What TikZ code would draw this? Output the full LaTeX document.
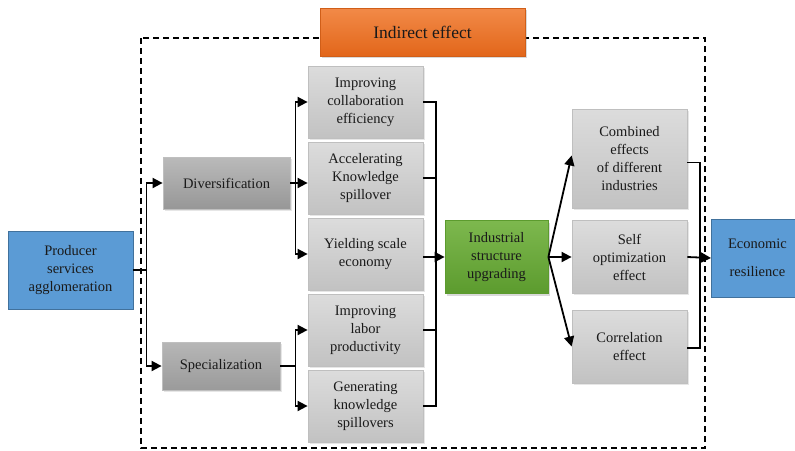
\documentclass[tikz,border=0pt]{standalone}
\usepackage{fontspec}
\setmainfont{Liberation Serif}
\usetikzlibrary{arrows.meta,shadows}

\definecolor{boxline}{HTML}{BFBFBF}
\definecolor{greytop}{HTML}{DCDCDC}
\definecolor{greybot}{HTML}{C2C2C2}
\definecolor{darktop}{HTML}{BABABA}
\definecolor{darkbot}{HTML}{979797}
\definecolor{bluefill}{HTML}{5B9BD5}
\definecolor{blueline}{HTML}{41719C}
\definecolor{orangetop}{HTML}{F28A48}
\definecolor{orangebot}{HTML}{E2661A}
\definecolor{greentop}{HTML}{7DB84E}
\definecolor{greenbot}{HTML}{5C9B2E}
\definecolor{inktext}{HTML}{1A1A1A}

\begin{document}
\begin{tikzpicture}[x=1pt,y=-1pt,
    txt/.style={font=\fontsize{14.5}{18}\selectfont, text=inktext, align=center, inner sep=2pt},
    mechbox/.style={txt, draw=boxline, line width=0.8pt, top color=greytop, bottom color=greybot,
        minimum width=115pt, minimum height=72pt,
        drop shadow={opacity=0.2, shadow xshift=1.5pt, shadow yshift=-1.5pt}},
    pathbox/.style={txt, draw=boxline, line width=0.8pt, top color=darktop, bottom color=darkbot,
        drop shadow={opacity=0.2, shadow xshift=1.5pt, shadow yshift=-1.5pt}},
    endbox/.style={txt, draw=blueline, line width=0.8pt, fill=bluefill, minimum height=78pt},
    link/.style={line width=1.8pt, line cap=butt},
    arr/.style={link, -{Triangle[length=10pt,width=10pt]}}
]

    % Fix the page to the size of the reference
    \useasboundingbox (0,0) rectangle (795,450);

    % Dashed frame of the indirect effect
    \draw[line width=1.4pt, dash pattern=on 6pt off 4pt] (141,38) rectangle (705,448);

    % Title box on top of the frame
    \node[txt, font=\fontsize{17.5}{20}\selectfont, minimum width=205pt, minimum height=48pt,
          draw=orangebot!80!black!40!orangebot, top color=orangetop, bottom color=orangebot,
          drop shadow={opacity=0.3, shadow xshift=2pt, shadow yshift=-2pt}]
          (indirect) at (422.5,32) {Indirect effect};

    % Start and end of the chain
    \node[endbox, minimum width=125pt] (producer) at (70.5,270) {Producer\\services\\agglomeration};
    \node[endbox, minimum width=92pt, anchor=west, font=\fontsize{14.5}{28}\selectfont] (resil) at (711,258) {Economic\\resilience};

    % The two kinds of agglomeration
    \node[pathbox, minimum width=127pt, minimum height=52pt] (divers) at (226.5,183) {Diversification};
    \node[pathbox, minimum width=118pt, minimum height=48pt, top color=darktop!90!darkbot, bottom color=darkbot!90!darktop] (special) at (221,366) {Specialization};

    % Middle column of mechanisms
    \node[mechbox] (collab) at (365.5,102) {Improving\\collaboration\\efficiency};
    \node[mechbox] (accel)  at (365.5,178) {Accelerating\\Knowledge\\spillover};
    \node[mechbox] (scale)  at (365.5,254) {Yielding scale\\economy};
    \node[mechbox] (labor)  at (365.5,330) {Improving\\labor\\productivity};
    \node[mechbox] (spill)  at (365.5,406) {Generating\\knowledge\\spillovers};

    % Industrial structure upgrading
    \node[txt, draw=greenbot, line width=0.8pt, top color=greentop, bottom color=greenbot,
          minimum width=103pt, minimum height=73pt,
          drop shadow={opacity=0.3, shadow xshift=2pt, shadow yshift=-2pt}]
          (upgrade) at (496.5,257) {Industrial\\structure\\upgrading};

    % Right column of effects
    \node[mechbox, minimum height=99pt] (combined) at (629.5,158.5) {Combined\\effects\\of different\\industries};
    \node[mechbox, minimum height=73pt] (selfopt)  at (629.5,257)   {Self\\optimization\\effect};
    \node[mechbox, minimum height=73pt] (correl)   at (629.5,346.5) {Correlation\\effect};

    % Bus points where the lines meet
    \coordinate (busL) at (436,257);
    \coordinate (busR) at (700,257);

    % Producer services to the two kinds
    \draw[arr] (producer.east) -- ++(13,0) |- (divers.west);
    \draw[arr] (producer.east) -- ++(13,0) |- (special.west);

    % Diversification to its mechanisms
    \draw[arr] (divers.east) -- ++(5,0) |- (collab.west);
    \draw[arr] (divers.east) -- (accel.west |- divers.east);
    \draw[arr] (divers.east) -- ++(5,0) |- (scale.west);

    % Specialization to its mechanisms
    \draw[arr] (special.east) -- ++(15,0) |- (labor.west);
    \draw[arr] (special.east) -- ++(15,0) |- (spill.west);

    % Mechanisms into the upgrading
    \draw[link] (collab.east) -| (busL);
    \draw[link] (accel.east) -- (accel.east -| busL);
    \draw[link] (labor.east) -- (labor.east -| busL);
    \draw[link] (spill.east) -| (busL);
    \draw[arr] (scale.east |- busL) -- (upgrade.west);

    % Upgrading to its effects
    \draw[arr] (upgrade.east) -- ([yshift=3pt]combined.west);
    \draw[arr] (upgrade.east) -- (selfopt.west);
    \draw[arr] (upgrade.east) -- (correl.west);

    % Effects into economic resilience
    \draw[link] ([yshift=-4pt]combined.east) -| (busR);
    \draw[link] ([yshift=-1.5pt]correl.east) -| (busR);
    \draw[arr] (selfopt.east) -- (resil.west);

\end{tikzpicture}
\end{document}
